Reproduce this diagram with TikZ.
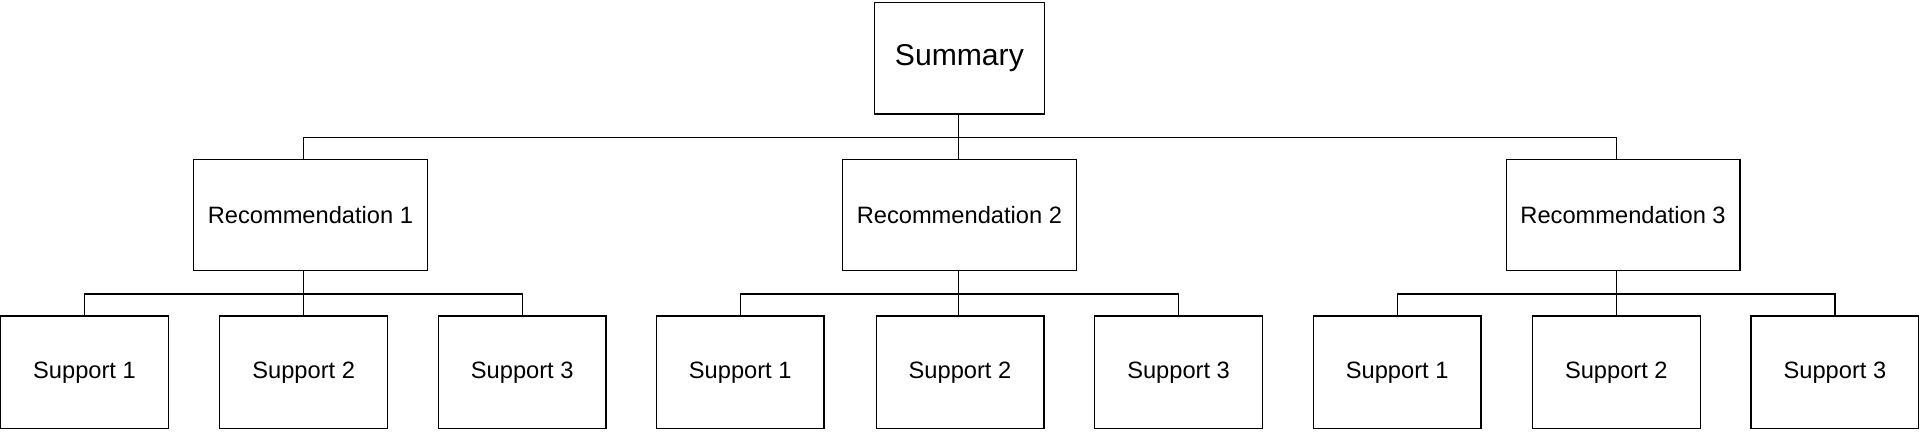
\documentclass[tikz,border=0pt]{standalone}
\usepackage{fontspec}
\setmainfont{Liberation Sans}
\usetikzlibrary{positioning}
\tikzset{
  box/.style={draw, line width=0.6pt, align=center, inner sep=0pt},
  sumbox/.style={box, minimum width=2.78cm, minimum height=1.82cm, font=\fontsize{14}{17}\selectfont},
  recbox/.style={box, minimum width=3.82cm, minimum height=1.82cm, font=\fontsize{11}{13}\selectfont},
  supbox/.style={box, minimum width=2.74cm, minimum height=1.84cm, font=\fontsize{11}{13}\selectfont},
  link/.style={line width=0.6pt}
}
\begin{document}
\begin{tikzpicture}[x=0.02cm, y=-0.02cm]
  \useasboundingbox (0,0) rectangle (1568,353);
  % top
  \node[sumbox] (sum) at (783.5,47.5) {Summary};
  % recommendations
  \node[recbox] (rec1) at (253.5,175.5) {Recommendation 1};
  \node[recbox] (rec2) at (783.5,175.5) {Recommendation 2};
  \node[recbox] (rec3) at (1325.5,175.5) {Recommendation 3};
  \coordinate (bus) at (783,112);
  \foreach \r/\x in {1/248, 2/783, 3/1320} {
    \coordinate (top\r) at (\x,130);
    \draw[link] (sum.south -| bus) -- (bus) -| (top\r);
  }
  % supports
  \foreach \r/\a/\b/\c/\m in {1/69/248/426.5/248, 2/604.5/784/962.5/783, 3/1141/1320/1498.5/1320} {
    \node[supbox] (s\r a) at (\a,304) {Support 1};
    \node[supbox] (s\r b) at (\b,304) {Support 2};
    \node[supbox] (s\r c) at (\c,304) {Support 3};
    \coordinate (hub\r) at (\m,240);
    \draw[link] (rec\r.south -| hub\r) -- (hub\r);
    \draw[link] (s\r a.north) |- (hub\r) -| (s\r c.north);
    \draw[link] (hub\r) -- (s\r b.north -| hub\r);
  }
\end{tikzpicture}
\end{document}
